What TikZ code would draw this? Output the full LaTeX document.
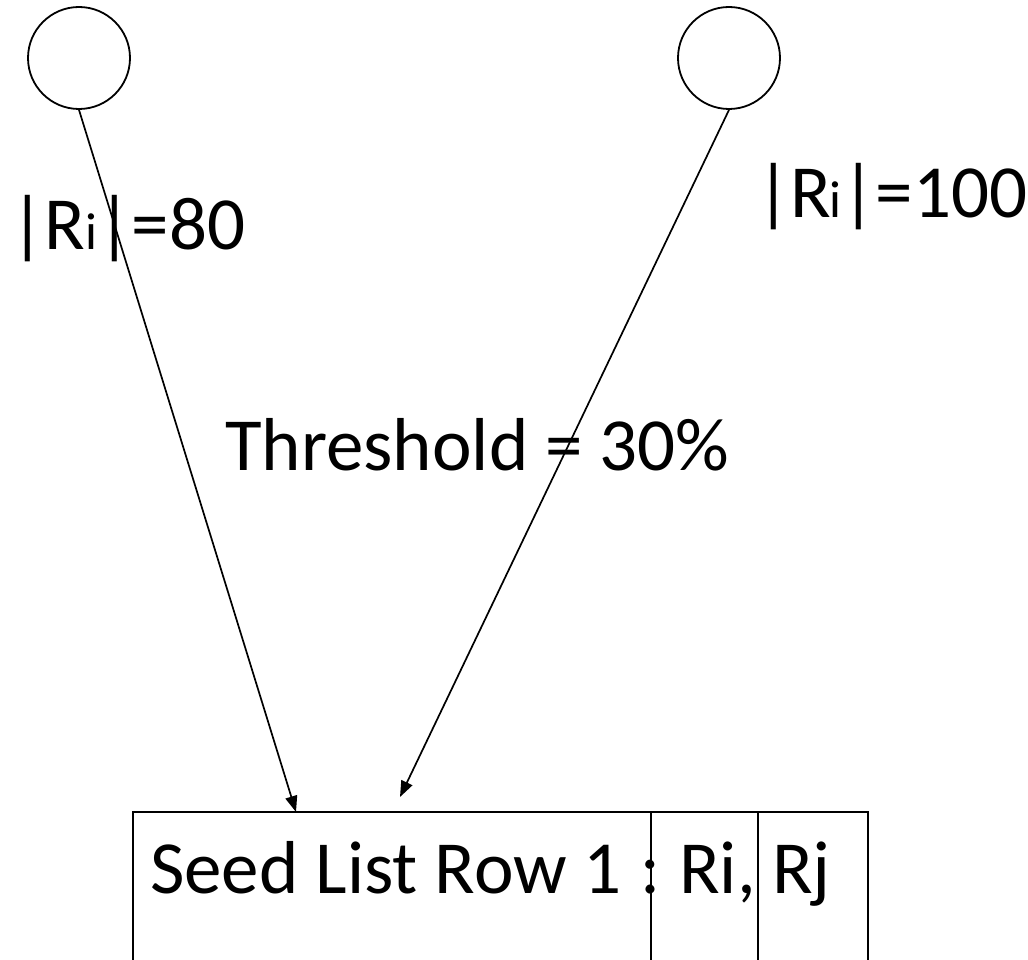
\documentclass[tikz,border=0pt]{standalone}
\usepackage{fontspec}
\setmainfont{Carlito}
\usetikzlibrary{arrows.meta}
\tikzset{
  ball/.style={draw, circle, line width=1.8pt, minimum size=102pt, inner sep=0pt},
  link/.style={line width=1.7pt, -{Triangle[length=16pt,width=12pt]}},
  big/.style={font=\fontsize{75}{80}\selectfont, inner sep=0pt},
  rowbox/.style={draw, line width=1.8pt, minimum width=735pt, minimum height=170pt, inner sep=0pt},
  cell/.style={line width=1.8pt}
}
\newcommand{\smalli}{{\fontsize{52}{56}\selectfont i}}
\begin{document}
\begin{tikzpicture}[x=1pt,y=-1pt]
  \useasboundingbox (0,0) rectangle (1028,960);

  % the two regions
  \node[ball] (c1) at (79,58) {};
  \node[ball] (c2) at (729,58) {};

  % seed list row, open at the bottom edge of the page
  \node[rowbox] (row) at (500.5,897) {};
  \coordinate (d1) at (651,0);
  \coordinate (d2) at (758,0);
  \draw[cell] (d1 |- row.north) -- (d1 |- row.south);
  \draw[cell] (d2 |- row.north) -- (d2 |- row.south);
  \node[big, anchor=base west] (rowtext) at (150,893) {Seed List Row 1};
  \node[big, anchor=base] (colon) at (651,893) {:};
  \node[big, anchor=base west] (ri) at (679,893) {Ri,};
  \node[big, anchor=base west] (rj) at (772,893) {Rj};

  % labels
  \node[big, anchor=base west] (size1) at (10,250) {|R\smalli|=80};
  \node[big, anchor=base west] (size2) at (756,218) {|R\kern-2pt\smalli|=100};
  \node[big, anchor=base west] (thr) at (225,470) {Threshold = 30\%};

  % connectors
  \coordinate (hit1) at (296,812);
  \coordinate (hit2) at (400,797);
  \draw[link] (c1.south) -- (hit1);
  \draw[link] (c2.south) -- (hit2);
\end{tikzpicture}
\end{document}
